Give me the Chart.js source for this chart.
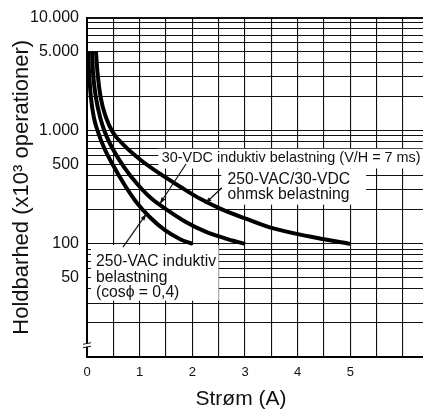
<!DOCTYPE html>
<html><head><meta charset="utf-8">
<script src="https://cdn.jsdelivr.net/npm/chart.js@4/dist/chart.umd.min.js"></script>
<style>html,body{margin:0;padding:0;background:#fff}canvas{display:block}</style>
</head><body>
<canvas id="c" width="423" height="411"></canvas>
<script>
// ---- data ----
const xGridValues = [0,0.5,1,1.5,2,2.5,3,3.5,4,4.5,5,5.5,6];
const xLabelValues = [0,1,2,3,4,5];
const yGridValues = [10,20,30,40,50,60,70,80,90,100,200,300,400,500,600,700,800,900,1000,2000,3000,4000,5000,6000,7000,8000,9000,10000];
const yLabelValues = [50,100,500,1000,5000,10000];
const yLabelTexts  = ['50','100','500','1.000','5.000','10.000'];

// 250-VAC induktiv belastning (cosφ = 0,4)
const acInductiveX = [0.02,0.04,0.075,0.13,0.21,0.32,0.49,0.7,0.93,1.2,1.48,1.77,2.0];
const acInductiveY = [5000,3240,1960,1310,970,715,500,340,236,171,132,110,100];
// 30-VDC induktiv belastning (V/H = 7 ms)
const dcInductiveX = [0.095,0.115,0.17,0.25,0.34,0.49,0.7,0.95,1.23,1.54,1.86,2.24,2.62,3.0];
const dcInductiveY = [5000,3240,1960,1310,970,690,480,340,250,197,158,129,112,100];
// 250-VAC/30-VDC ohmsk belastning
const resistiveX = [0.17,0.2,0.26,0.36,0.49,0.72,1.0,1.39,1.77,2.15,2.53,3.0,3.47,4.23,5.0];
const resistiveY = [5000,3240,1960,1310,970,730,560,415,320,250,205,168,140,116,100];

const xTitle = 'Strøm (A)';
const yTitle = 'Holdbarhed (x10³ operationer)';

// ---- annotations (in data coordinates) ----
const boxes = [
  {x0:1.355, x1:6.38, y0:693, y1:464},
  {x0:2.55, x1:5.3, y0:464, y1:222},
  {x0:0.076, x1:2.5, y0:97.3, y1:31.5}
];
const texts = [
  {t:'30-VDC induktiv belastning (V/H = 7 ms)', x:1.42, y:534, size:14.4},
  {t:'250-VAC/30-VDC', x:2.667, y:341, size:15.7},
  {t:'ohmsk belastning', x:2.667, y:251, size:15.7},
  {t:'250-VAC induktiv', x:0.171, y:63.8, size:15.7},
  {t:'belastning', x:0.171, y:46.2, size:15.7},
  {t:'(cosϕ = 0,4)', x:0.171, y:34.2, size:15.7}
];
const leaders = [
  {x0:1.88, y0:508, x1:1.38, y1:225},
  {x0:2.56, y0:313, x1:2.24, y1:226},
  {x0:0.684, y0:93.5, x1:1.13, y1:185}
];

const FONT = "'Liberation Sans', Arial, Helvetica, sans-serif";
const toPts = (xs, ys) => xs.map((x,i)=>({x, y:ys[i]}));

const annotPlugin = {
  id:'annot',
  beforeDatasetsDraw(chart){
    const {ctx, scales:{x,y}} = chart;
    ctx.save();
    ctx.fillStyle = '#fff';
    boxes.forEach(b=>{
      const px0=x.getPixelForValue(b.x0), px1=x.getPixelForValue(b.x1);
      const py0=y.getPixelForValue(b.y0), py1=y.getPixelForValue(b.y1);
      ctx.fillRect(px0, py0, px1-px0, py1-py0);
    });
    ctx.restore();
  },
  afterDatasetsDraw(chart){
    const {ctx, scales:{x,y}} = chart;
    ctx.save();
    ctx.fillStyle = '#111';
    ctx.textBaseline = 'alphabetic';
    ctx.textAlign = 'left';
    texts.forEach(t=>{
      ctx.font = t.size + 'px ' + FONT;
      ctx.fillText(t.t, x.getPixelForValue(t.x), y.getPixelForValue(t.y));
    });
    ctx.strokeStyle = '#111';
    ctx.lineWidth = 1.2;
    leaders.forEach(l=>{
      const ax=x.getPixelForValue(l.x0), ay=y.getPixelForValue(l.y0);
      const bx=x.getPixelForValue(l.x1), by=y.getPixelForValue(l.y1);
      ctx.beginPath(); ctx.moveTo(ax,ay); ctx.lineTo(bx,by); ctx.stroke();
      const ang=Math.atan2(by-ay,bx-ax), L=7, W=2.2;
      ctx.beginPath();
      ctx.moveTo(bx,by);
      ctx.lineTo(bx-L*Math.cos(ang)+W*Math.sin(ang), by-L*Math.sin(ang)-W*Math.cos(ang));
      ctx.lineTo(bx-L*Math.cos(ang)-W*Math.sin(ang), by-L*Math.sin(ang)+W*Math.cos(ang));
      ctx.closePath(); ctx.fill();
    });
    const bxp = x.getPixelForValue(0), byp = y.getPixelForValue(12.7);
    ctx.fillStyle='#fff';
    ctx.fillRect(bxp-2, byp-1.5, 4, 3);
    ctx.strokeStyle='#111'; ctx.lineWidth=1;
    ctx.beginPath();
    ctx.moveTo(bxp-4, byp-1); ctx.lineTo(bxp+4, byp-2.5);
    ctx.moveTo(bxp-4, byp+2.5); ctx.lineTo(bxp+4, byp+1);
    ctx.stroke();
    ctx.fillStyle='#111';
    ctx.font = '21px ' + FONT;
    ctx.textAlign='center';
    ctx.fillText(xTitle, 241, 405);
    ctx.restore();
  }
};

const lineStyle = {borderColor:'#000', borderWidth:4, pointRadius:0, fill:false, cubicInterpolationMode:'monotone', borderCapStyle:'butt'};

new Chart(document.getElementById('c'), {
  type:'line',
  data:{datasets:[
    Object.assign({label:'250-VAC induktiv', data:toPts(acInductiveX, acInductiveY)}, lineStyle),
    Object.assign({label:'30-VDC induktiv', data:toPts(dcInductiveX, dcInductiveY)}, lineStyle),
    Object.assign({label:'250-VAC/30-VDC ohmsk', data:toPts(resistiveX, resistiveY)}, lineStyle)
  ]},
  options:{
    responsive:false, animation:false, devicePixelRatio:1,
    layout:{padding:{left:0,right:0,top:14,bottom:24}},
    plugins:{legend:{display:false}, tooltip:{enabled:false}},
    scales:{
      x:{type:'linear', min:0, max:6.38,
        afterBuildTicks: s => { s.ticks = xGridValues.map(v=>({value:v})); },
        afterFit: s => { s.height = 30; },
        ticks:{autoSkip:false, maxRotation:0, padding:8, color:'#111',
          font:{family:FONT, size:13},
          callback: v => xLabelValues.includes(v) ? String(v) : ''},
        grid:{color:'#111', lineWidth:1.1, drawTicks:false},
        border:{display:true, color:'#000', width:2}
      },
      y:{type:'logarithmic', min:10, max:10000,
        afterBuildTicks: s => { s.ticks = yGridValues.map(v=>({value:v})); },
        afterFit: s => { s.width = 87; },
        ticks:{autoSkip:false, padding:8, color:'#111',
          font:{family:FONT, size:16},
          callback: v => { const i = yLabelValues.indexOf(v); return i>=0 ? yLabelTexts[i] : ''; }},
        grid:{color:'#111', lineWidth: c => (c.tick && c.tick.value===10000) ? 2 : 1, drawTicks:false},
        border:{display:true, color:'#000', width:2},
        title:{display:true, text:yTitle, color:'#111', font:{family:FONT, size:22}, padding:{top:9, bottom:0}}
      }
    }
  },
  plugins:[annotPlugin]
});
</script>
</body></html>
